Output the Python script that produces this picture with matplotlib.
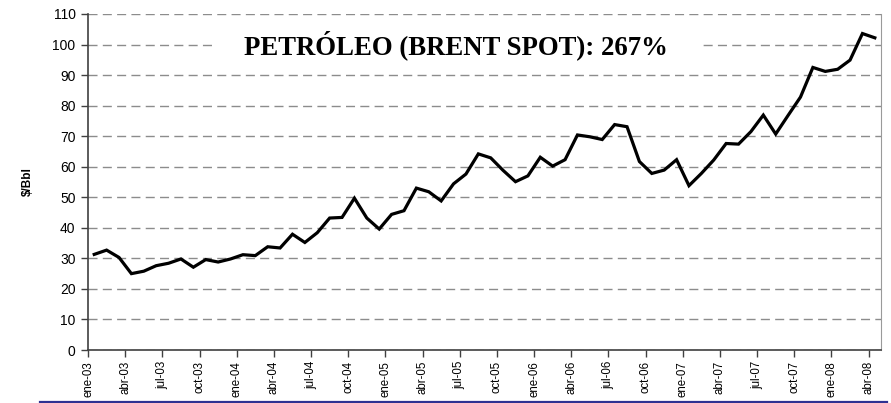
import numpy as np
import matplotlib
matplotlib.use("Agg")
import matplotlib.pyplot as plt
import matplotlib.transforms as mtransforms
from matplotlib.patches import Rectangle
from matplotlib.lines import Line2D

# ── Datos: Brent spot mensual, ene-03 .. abr-08 ($/Bbl) ─────────────────────
meses = ['ene', 'feb', 'mar', 'abr', 'may', 'jun',
         'jul', 'ago', 'sep', 'oct', 'nov', 'dic']
anios = ['03', '04', '05', '06', '07', '08']

brent_2003 = [31.3, 32.7, 30.3, 25.0, 25.8, 27.6, 28.4, 29.8, 27.1, 29.6, 28.8, 29.8]
brent_2004 = [31.2, 30.9, 33.8, 33.4, 37.9, 35.2, 38.4, 43.2, 43.4, 49.7, 43.2, 39.6]
brent_2005 = [44.4, 45.6, 53.0, 51.8, 48.8, 54.4, 57.6, 64.2, 62.9, 58.8, 55.1, 57.0]
brent_2006 = [63.1, 60.2, 62.3, 70.4, 69.8, 68.9, 73.8, 73.1, 61.7, 57.8, 58.9, 62.3]
brent_2007 = [53.8, 57.8, 62.2, 67.6, 67.4, 71.5, 76.9, 70.7, 76.8, 82.8, 92.5, 91.2]
brent_2008 = [91.9, 94.9, 103.6, 102.2]

precio = brent_2003 + brent_2004 + brent_2005 + brent_2006 + brent_2007 + brent_2008
etiquetas = [f'{m}-{a}' for a in anios for m in meses][:len(precio)]

titulo = 'PETRÓLEO (BRENT SPOT): 267%'

# ── Figura ───────────────────────────────────────────────────────────────────
fig = plt.figure(figsize=(8.91, 4.03), dpi=100)
fig.patch.set_facecolor('white')
ax = fig.add_axes([0.0988, 0.1315, 0.89, 0.8338])

x = np.arange(len(precio)) + 0.5
ax.plot(x, precio, color='black', lw=2.3, solid_joinstyle='miter', zorder=4)

ax.set_xlim(0, len(precio))
ax.set_ylim(0, 110)
ax.set_yticks(np.arange(0, 111, 10))
ax.set_xticks(np.arange(0, len(precio), 3))
ax.set_xticklabels(etiquetas[::3], rotation=90, fontsize=8.3,
                   family='Liberation Sans')
ax.tick_params(axis='y', labelsize=10, length=5, width=1, color='#404040', pad=4)
ax.tick_params(axis='x', length=5, width=1, color='#404040', pad=3)
for lbl in ax.get_yticklabels():
    lbl.set_family('Liberation Sans')

ax.yaxis.grid(True, color='#8c8c8c', lw=1, linestyle=(0, (6.5, 3.8)))
ax.set_axisbelow(True)

ax.spines['top'].set_visible(False)
ax.spines['left'].set_color('#404040')
ax.spines['bottom'].set_color('#404040')
ax.spines['right'].set_color('#9a9a9a')
ax.spines['left'].set_linewidth(1.2)
ax.spines['bottom'].set_linewidth(1.2)

ax.set_ylabel('$/Bbl', fontsize=8.5, fontweight='bold', family='Liberation Sans',
              labelpad=13)

# Hueco blanco detrás del título
ax.add_patch(Rectangle((0.160, 0.86), 0.614, 0.09, transform=ax.transAxes,
                       facecolor='white', edgecolor='none', zorder=2))
trans = mtransforms.blended_transform_factory(ax.transAxes, ax.transData)
ax.text(0.464, 96.8, titulo, transform=trans,
        ha='center', va='baseline', fontsize=19.3, fontweight='bold',
        family='Liberation Serif', zorder=3)

# Línea azul inferior
fig.add_artist(Line2D([0.045, 0.995], [0.0037, 0.0037], transform=fig.transFigure,
                      color='#2E3192', lw=1.6))

fig.savefig('out.png', dpi=100, facecolor='white')
